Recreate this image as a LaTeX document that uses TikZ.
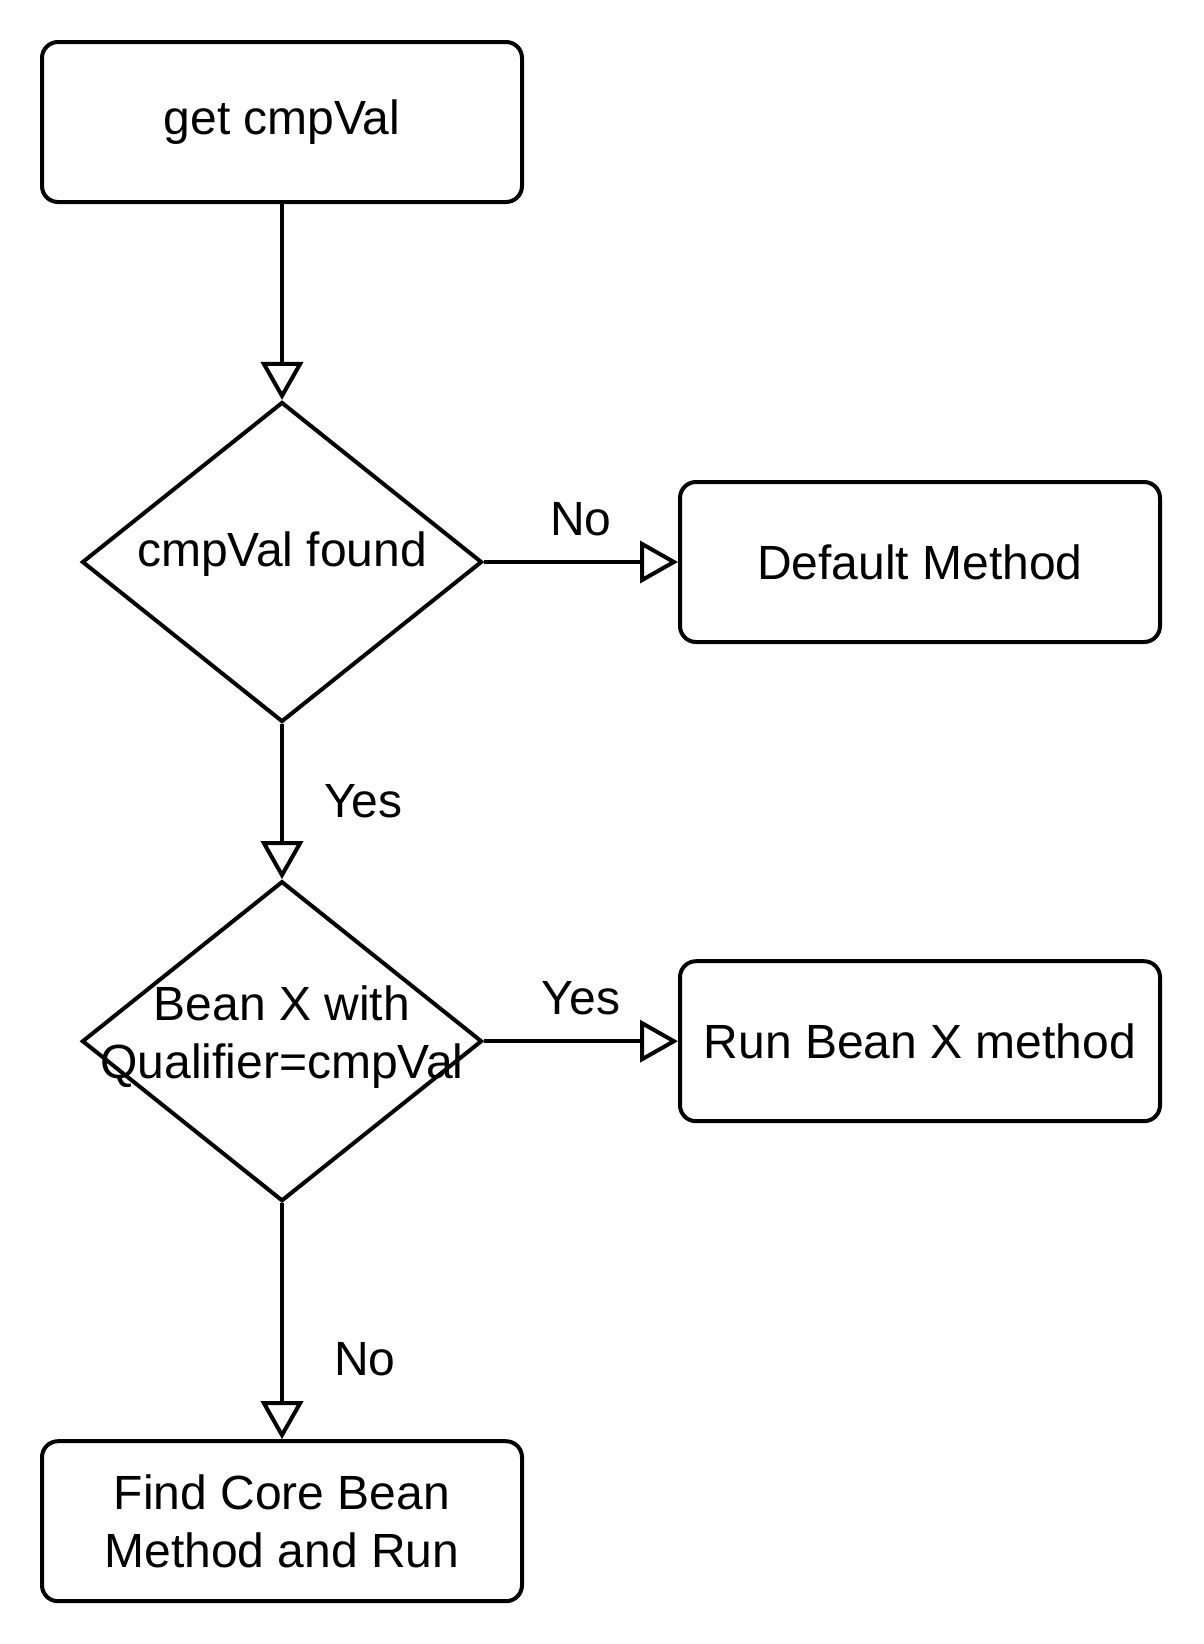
\documentclass[tikz,border=0pt]{standalone}
\usepackage{fontspec}
\setmainfont{Liberation Sans}
\usetikzlibrary{arrows.meta,positioning,shapes.geometric}

\begin{document}
\begin{tikzpicture}[
    block/.style={rectangle, draw, rounded corners=8pt, minimum width=240pt, minimum height=80pt, align=center, inner sep=0pt},
    decision/.style={diamond, draw, minimum width=200pt, minimum height=160pt, inner sep=0pt},
    line/.style={draw, -{Triangle[open, length=19pt, width=21pt]}},
    lbl/.style={inner sep=0pt},
    every node/.append style={font=\fontsize{24}{29}\selectfont},
    line width=2pt
]
\useasboundingbox (0,0) rectangle (602pt,-822pt);

% Blocks
\node[block] (get) at (141pt,-61pt) {get cmpVal};
\node[decision, below=98pt of get] (found) {};
\node[lbl, yshift=4pt] (foundtext) at (found) {cmpVal found};
\node[block, right=97pt of found] (default) {Default Method};
\node[decision, below=77.6pt of found] (beanx) {};
\node[lbl, align=center, yshift=2pt] (beanxtext) at (beanx) {Bean X with\\Qualifier=cmpVal};
\node[block, right=97pt of beanx] (runx) {Run Bean X method};
\node[block, below=118pt of beanx] (core) {Find Core Bean\\Method and Run};

% Lines
\draw[line] (get) -- (found);
\draw[line] (found) -- node[lbl, above=12pt] {No} (default);
\draw[line] (found) -- node[lbl, right=20pt] {Yes} (beanx);
\draw[line] (beanx) -- node[lbl, above=12pt] {Yes} (runx);
\draw[line] (beanx) -- node[lbl, pos=0.66, right=25pt] {No} (core);

\end{tikzpicture}
\end{document}
